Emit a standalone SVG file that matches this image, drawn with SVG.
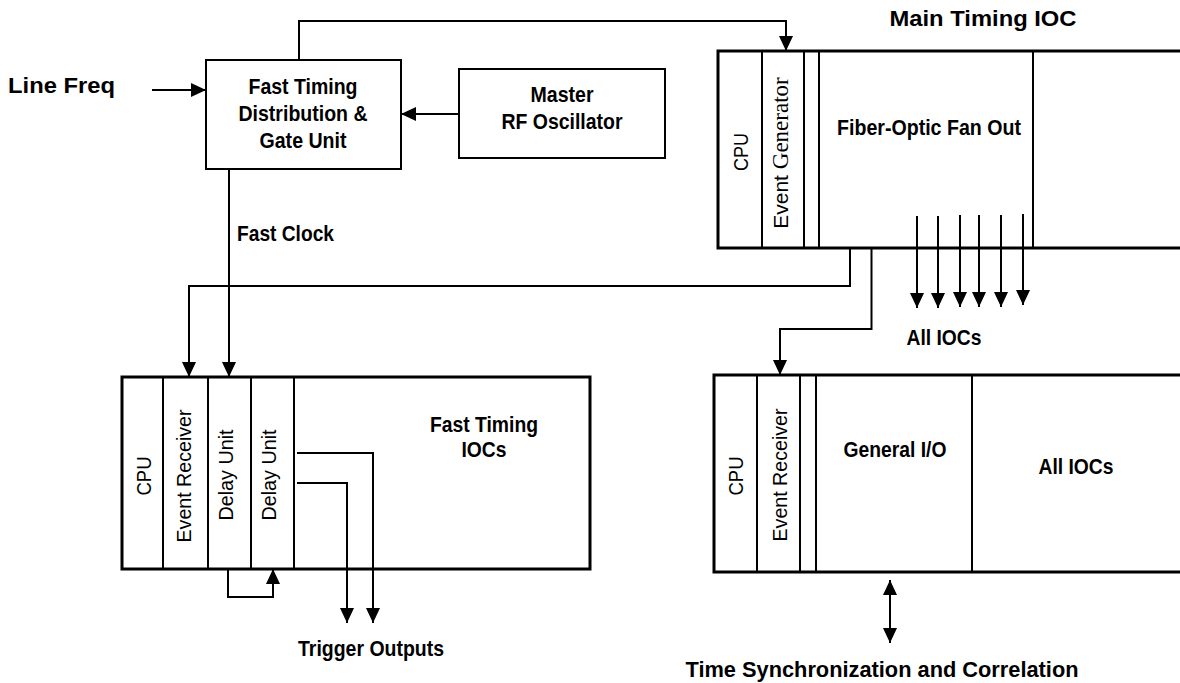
<svg xmlns="http://www.w3.org/2000/svg" width="1180" height="683" viewBox="0 0 1180 683">
<style>
.bx{fill:#fff;stroke:#000;stroke-width:2}
.ch{fill:#fff;stroke:#000;stroke-width:3}
.pn{fill:none;stroke:#000;stroke-width:2}
.ln{fill:none;stroke:#000;stroke-width:2}
.b{font-family:"Liberation Sans",Arial,sans-serif;font-weight:bold;font-size:22px;fill:#000}
.r{font-family:"Liberation Sans",Arial,sans-serif;font-size:21px;fill:#000}
.t{font-family:"Liberation Serif","Times New Roman",serif;font-size:23px}
.m{text-anchor:middle}
</style>
<defs>
<marker id="ah" markerUnits="userSpaceOnUse" markerWidth="16" markerHeight="15" refX="15" refY="7" orient="auto">
<path d="M0,0 L15,7 L0,14 z" fill="#000"/>
</marker>
<marker id="ahs" markerUnits="userSpaceOnUse" markerWidth="16" markerHeight="15" refX="0" refY="7" orient="auto">
<path d="M15,0 L0,7 L15,14 z" fill="#000"/>
</marker>
</defs>

<text class="b" x="8" y="93" textLength="107" lengthAdjust="spacingAndGlyphs">Line Freq</text>

<g id="fast-timing-dist">
<rect class="bx" x="206" y="60" width="195" height="109"/>
<text class="b m" x="303" y="94" textLength="109" lengthAdjust="spacingAndGlyphs">Fast Timing</text>
<text class="b m" x="303" y="121" textLength="129" lengthAdjust="spacingAndGlyphs">Distribution &amp;</text>
<text class="b m" x="303" y="148" textLength="87" lengthAdjust="spacingAndGlyphs">Gate Unit</text>
</g>

<g id="master-rf">
<rect class="bx" x="459" y="69" width="206" height="89"/>
<text class="b m" x="562" y="102" textLength="63" lengthAdjust="spacingAndGlyphs">Master</text>
<text class="b m" x="562" y="129" textLength="121" lengthAdjust="spacingAndGlyphs">RF Oscillator</text>
</g>

<g id="main-timing-ioc">
<text class="b m" x="983" y="26" textLength="187" lengthAdjust="spacingAndGlyphs">Main Timing IOC</text>
<rect class="ch" x="718" y="51" width="475" height="197"/>
<line class="pn" x1="762" y1="51" x2="762" y2="248"/>
<line class="pn" x1="804" y1="51" x2="804" y2="248"/>
<line class="pn" x1="819" y1="51" x2="819" y2="248"/>
<line class="pn" x1="1033" y1="51" x2="1033" y2="248"/>
<text class="r m" transform="translate(748,152) rotate(-90)" textLength="38" lengthAdjust="spacingAndGlyphs">CPU</text>
<text class="r m" transform="translate(788,153) rotate(-90)">Event <tspan class="t">Generator</tspan></text>
<text class="b m" x="929" y="135" textLength="184" lengthAdjust="spacingAndGlyphs">Fiber-Optic Fan Out</text>
</g>

<text class="b" x="237" y="241" textLength="97" lengthAdjust="spacingAndGlyphs">Fast Clock</text>
<text class="b m" x="944" y="345" textLength="75" lengthAdjust="spacingAndGlyphs">All IOCs</text>

<g id="fast-timing-iocs">
<rect class="ch" x="122" y="377" width="468" height="192"/>
<line class="pn" x1="163" y1="377" x2="163" y2="569"/>
<line class="pn" x1="208" y1="377" x2="208" y2="569"/>
<line class="pn" x1="251" y1="377" x2="251" y2="569"/>
<line class="pn" x1="294" y1="377" x2="294" y2="569"/>
<text class="r m" transform="translate(151,476) rotate(-90)" textLength="39" lengthAdjust="spacingAndGlyphs">CPU</text>
<text class="r m" transform="translate(191,476) rotate(-90)" textLength="133" lengthAdjust="spacingAndGlyphs">Event Receiver</text>
<text class="r m" transform="translate(233,475) rotate(-90)" textLength="91" lengthAdjust="spacingAndGlyphs">Delay Unit</text>
<text class="r m" transform="translate(276,475) rotate(-90)" textLength="91" lengthAdjust="spacingAndGlyphs">Delay Unit</text>
<text class="b m" x="484" y="432" textLength="108" lengthAdjust="spacingAndGlyphs">Fast Timing</text>
<text class="b m" x="484" y="457" textLength="45" lengthAdjust="spacingAndGlyphs">IOCs</text>
</g>

<text class="b m" x="371" y="656" textLength="146" lengthAdjust="spacingAndGlyphs">Trigger Outputs</text>

<g id="all-iocs">
<rect class="ch" x="714" y="375" width="480" height="197"/>
<line class="pn" x1="757" y1="375" x2="757" y2="572"/>
<line class="pn" x1="800" y1="375" x2="800" y2="572"/>
<line class="pn" x1="816" y1="375" x2="816" y2="572"/>
<line class="pn" x1="972" y1="375" x2="972" y2="572"/>
<text class="r m" transform="translate(743,476) rotate(-90)" textLength="39" lengthAdjust="spacingAndGlyphs">CPU</text>
<text class="r m" transform="translate(787,475) rotate(-90)" textLength="133" lengthAdjust="spacingAndGlyphs">Event Receiver</text>
<text class="b m" x="895" y="457" textLength="103" lengthAdjust="spacingAndGlyphs">General I/O</text>
<text class="b m" x="1076" y="474" textLength="75" lengthAdjust="spacingAndGlyphs">All IOCs</text>
</g>

<text class="b m" x="882" y="677" textLength="393" lengthAdjust="spacingAndGlyphs">Time Synchronization and Correlation</text>

<g id="connectors">
<line class="ln" x1="152" y1="90" x2="206" y2="90" marker-end="url(#ah)"/>
<line class="ln" x1="459" y1="114" x2="401" y2="114" marker-end="url(#ah)"/>
<path class="ln" d="M299,60 V21 H786 V51" marker-end="url(#ah)"/>
<line class="ln" x1="229" y1="169" x2="229" y2="377" marker-end="url(#ah)"/>
<path class="ln" d="M850,248 V286 H189 V377" marker-end="url(#ah)"/>
<path class="ln" d="M871.5,248 V329 H780 V375" marker-end="url(#ah)"/>
<line class="ln" x1="917" y1="216" x2="917" y2="308" marker-end="url(#ah)"/>
<line class="ln" x1="938" y1="216" x2="938" y2="308" marker-end="url(#ah)"/>
<line class="ln" x1="960" y1="215" x2="960" y2="307" marker-end="url(#ah)"/>
<line class="ln" x1="979" y1="215" x2="979" y2="307" marker-end="url(#ah)"/>
<line class="ln" x1="1001" y1="215" x2="1001" y2="307" marker-end="url(#ah)"/>
<line class="ln" x1="1023" y1="214" x2="1023" y2="305" marker-end="url(#ah)"/>
<path class="ln" d="M228,569 V597 H273 V569" marker-end="url(#ah)"/>
<path class="ln" d="M297,453 H373 V623" marker-end="url(#ah)"/>
<path class="ln" d="M297,483 H347 V623" marker-end="url(#ah)"/>
<line class="ln" x1="890" y1="580" x2="890" y2="643" marker-start="url(#ahs)" marker-end="url(#ah)"/>
</g>
</svg>
